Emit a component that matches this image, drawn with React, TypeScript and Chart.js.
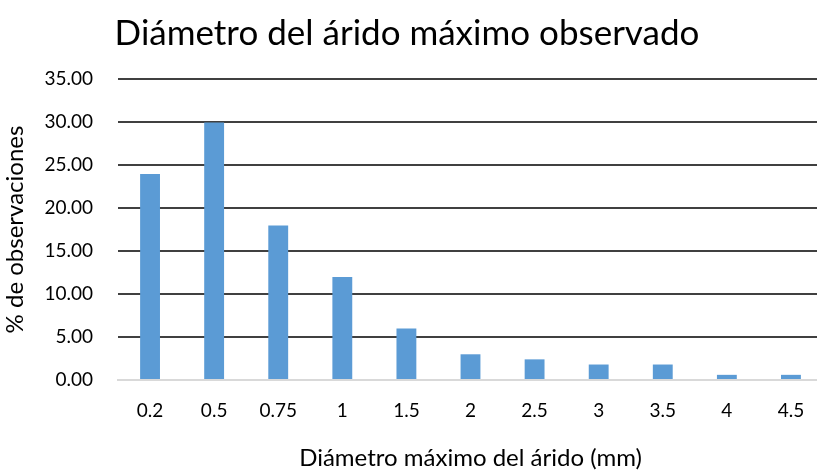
import React, { useEffect, useRef } from "react";
import { Chart, registerables } from "chart.js";

Chart.register(...registerables);

const categories = ["0.2", "0.5", "0.75", "1", "1.5", "2", "2.5", "3", "3.5", "4", "4.5"];
const values = [23.95, 29.94, 17.96, 11.98, 5.99, 2.99, 2.4, 1.8, 1.8, 0.6, 0.6];
const yTicks = [0, 5, 10, 15, 20, 25, 30, 35];
const titleText = "Diámetro del árido máximo observado";
const xTitle = "Diámetro máximo del árido (mm)";
const yTitle = "% de observaciones";

const FONT = "Lato, 'Open Sans', sans-serif";

export default function App() {
  const ref = useRef<HTMLCanvasElement | null>(null);
  useEffect(() => {
    if (!ref.current) return;
    const chart = new Chart(ref.current, {
      type: "bar",
      data: {
        labels: categories,
        datasets: [
          {
            data: values,
            backgroundColor: "#5B9BD5",
            borderWidth: 0,
            categoryPercentage: 1,
            barPercentage: 0.31,
          },
        ],
      },
      options: {
        animation: false,
        responsive: false,
        maintainAspectRatio: false,
        layout: { padding: { left: 0, right: 3, top: 13, bottom: 0 } },
        plugins: {
          legend: { display: false },
          tooltip: { enabled: false },
          title: {
            display: true,
            text: titleText,
            color: "#000",
            font: { family: FONT, size: 35, weight: "normal" },
            padding: { top: 0, bottom: 24 },
          },
        },
        scales: {
          x: {
            afterFit: (axis: any) => {
              axis.height = 93;
            },
            grid: { display: false, drawTicks: false },
            border: { display: true, color: "#d9d9d9", width: 2 },
            ticks: {
              color: "#000",
              font: { family: FONT, size: 19 },
              padding: 19,
              maxRotation: 0,
            },
            title: {
              display: true,
              text: xTitle,
              color: "#000",
              font: { family: FONT, size: 24 },
              padding: { top: 10, bottom: 0 },
            },
          },
          y: {
            min: 0,
            max: 35,
            afterFit: (axis: any) => {
              axis.width = 127;
            },
            afterBuildTicks: (axis: any) => {
              axis.ticks = yTicks.map((v) => ({ value: v }));
            },
            grid: {
              color: (ctx: any) => (ctx.tick && ctx.tick.value === 0 ? "rgba(0,0,0,0)" : "#404040"),
              lineWidth: 2,
              drawTicks: false,
            },
            border: { display: false },
            ticks: {
              color: "#000",
              font: { family: FONT, size: 19 },
              padding: 25,
              callback: (v: any) => Number(v).toFixed(2),
            },
            title: {
              display: true,
              text: yTitle,
              color: "#000",
              font: { family: FONT, size: 24 },
              padding: { top: 10, bottom: 0 },
            },
          },
        },
      },
    });
    return () => chart.destroy();
  }, []);
  return (
    <div
      style={{
        position: "fixed",
        left: 0,
        top: 0,
        width: 817,
        height: 473,
        overflow: "hidden",
        background: "#fff",
      }}
    >
      <canvas
        ref={ref}
        width={835}
        height={473}
        style={{ display: "block", position: "absolute", left: -9, top: 0 }}
      />
    </div>
  );
}
